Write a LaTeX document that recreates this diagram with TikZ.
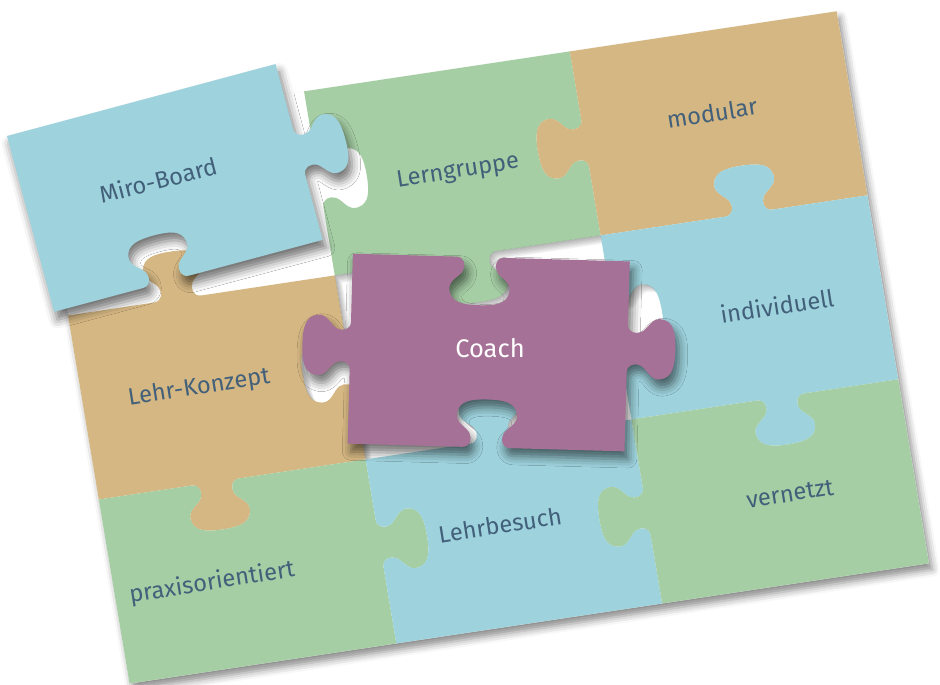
\documentclass[tikz,border=0pt]{standalone}
\usepackage{fontspec}
\setmainfont{Fira Sans}
\usetikzlibrary{calc, shadows.blur}

\definecolor{pzblue}{RGB}{158,211,221}
\definecolor{pzgreen}{RGB}{165,206,164}
\definecolor{pztan}{RGB}{213,183,131}
\definecolor{pzplum}{RGB}{166,113,150}
\definecolor{pzink}{RGB}{66,96,122}

% point of a knob: #1 along the edge, #2 out of it (in px)
\newcommand{\ku}{0.02}
\newcommand{\kp}[2]{($(\tikztostart)!.5!(\tikztotarget)!{(#1+\koff)*\ku cm}!(\tikztotarget)!{\ksgn*#2*\ku cm}!90:(\tikztotarget)$)}

\tikzset{
  knob/.style 2 args={/utils/exec={\def\ksgn{#1}\def\koff{#2}},
    to path={-- \kp{-24}{0}
      .. controls \kp{-16}{0} and \kp{-14}{8} .. \kp{-17}{14}
      .. controls \kp{-20}{20} and \kp{-32}{24} .. \kp{-30}{34}
      .. controls \kp{-28}{46} and \kp{-16}{48} .. \kp{0}{48}
      .. controls \kp{16}{48} and \kp{28}{46} .. \kp{30}{34}
      .. controls \kp{32}{24} and \kp{20}{20} .. \kp{17}{14}
      .. controls \kp{14}{8} and \kp{16}{0} .. \kp{24}{0}
      -- (\tikztotarget)}},
  tabout/.style={knob={1}{#1}}, tabout/.default=0,
  tabin/.style={knob={-1}{#1}}, tabin/.default=0,
  lifted/.style={fill=#1, blur shadow={shadow xshift=2pt, shadow yshift=-4.5pt,
      shadow blur radius=5pt, shadow opacity=55}},
  lbl/.style={font=\fontsize{13.5}{16}\selectfont, text=pzink},
  coachhole/.style={insert path={(267,185) to[tabin=5] (533,185) to[tabout=-8] (533,370)
      to[tabin=5] (267,370) to[tabout] (267,185) -- cycle}}
}

\begin{document}
\begin{tikzpicture}[x=0.02cm, y=-0.02cm]
	\useasboundingbox (0,0) rectangle (940,685);

	% Board, tilted
	\begin{scope}[shift={(37.25,131.5)}, x={(0.019988cm,0.003cm)}, y={(0.003333cm,-0.019892cm)}]
		\fill[white, blur shadow={shadow xshift=2pt, shadow yshift=-3.5pt, shadow blur radius=4pt, shadow opacity=45}]
			(0,0) -- (800,0) -- (800,555) -- (0,555) -- cycle;

		% Top row
		\fill[pzgreen] (267,0) -- (533,0) to[tabin] (533,185) to[tabout=-5] (267,185) to[tabin] (267,0) -- cycle; % Lerngruppe
		\fill[pztan] (533,0) -- (800,0) -- (800,185) to[tabin=-15] (533,185) to[tabout] (533,0) -- cycle; % modular

		% Middle row
		\fill[pztan] (0,185) to[tabout=-24] (267,185) to[tabin] (267,370) to[tabout=17] (0,370) -- cycle; % Lehr-Konzept
		\fill[pzblue] (533,185) to[tabout=15] (800,185) -- (800,370) to[tabout=-16] (533,370) to[tabin=8] (533,185) -- cycle; % individuell

		% Bottom row
		\fill[pzgreen] (0,370) to[tabin=-17] (267,370) to[tabout=-8] (267,555) -- (0,555) -- cycle; % praxisorientiert
		\fill[pzblue] (267,370) to[tabout=-5] (533,370) to[tabin] (533,555) -- (267,555) to[tabin=8] (267,370) -- cycle; % Lehrbesuch
		\fill[pzgreen] (533,370) to[tabin=16] (800,370) -- (800,555) -- (533,555) to[tabout] (533,370) -- cycle; % vernetzt

		% Shade inside the empty slot of the coach
		\begin{scope}
			\clip[coachhole];
			\foreach \s in {1,...,6}
				\fill[black, opacity=0.05, even odd rule, xshift=\s*0.7pt, yshift=-\s*0.7pt]
					(-50,-50) -- (850,-50) -- (850,600) -- (-50,600) -- cycle [coachhole];
		\end{scope}
	\end{scope}

	% Lifted pieces
	\begin{scope}[shift={(7,136)}, rotate=15]
		\fill[lifted=pzblue] (0,0) -- (278,0) to[tabout] (278,182) to[tabin=23] (0,182) -- cycle; % Miro-Board
	\end{scope}
	\begin{scope}[shift={(352.9,253.7)}, rotate=-1.6]
		\fill[lifted=pzplum] (0,0) to[tabin=-11] (277,0) to[tabout=-8] (277,190) to[tabin] (0,190) to[tabout=3] (0,0) -- cycle; % Coach
	\end{scope}

	% Labels
	\node[lbl, rotate=14.5] (miro) at (158,180) {Miro-Board};
	\node[lbl, rotate=9] (lerngruppe) at (458,172) {Lerngruppe};
	\node[lbl, rotate=9] (modular) at (712,113) {modular};
	\node[lbl, rotate=9] (lehrkonzept) at (199,388) {Lehr-Konzept};
	\node[lbl, text=white, font=\fontsize{14.5}{17}\selectfont] (coach) at (490,348) {Coach};
	\node[lbl, rotate=9] (individuell) at (777,306) {individuell};
	\node[lbl, rotate=9] (praxis) at (212,583) {praxisorientiert};
	\node[lbl, rotate=9] (lehrbesuch) at (500,525) {Lehrbesuch};
	\node[lbl, rotate=9] (vernetzt) at (790,494) {vernetzt};
\end{tikzpicture}
\end{document}
